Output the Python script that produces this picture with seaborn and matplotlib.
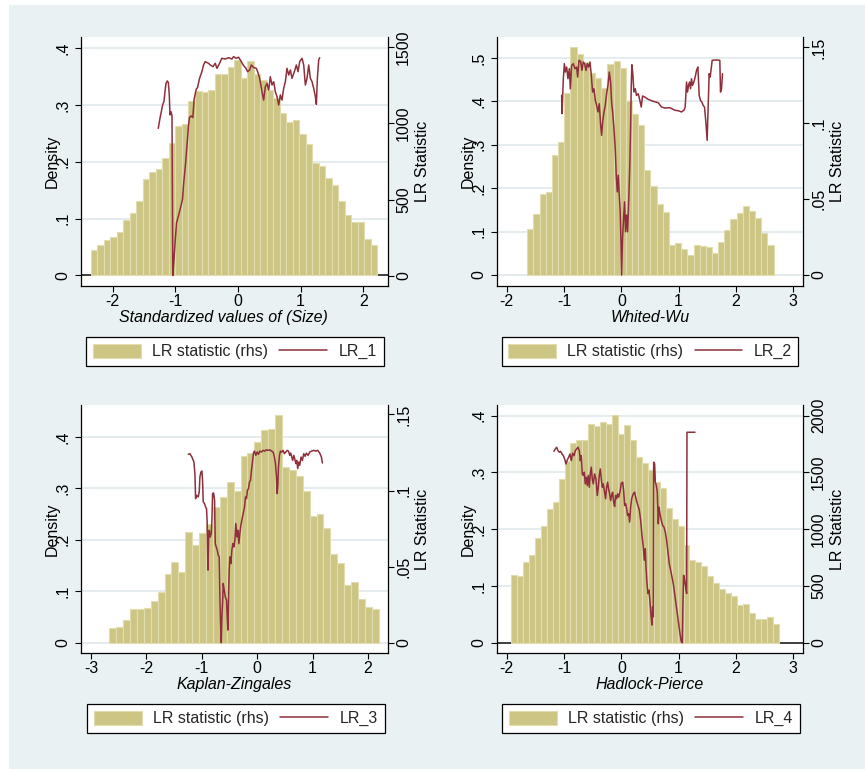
import numpy as np
import pandas as pd
import seaborn as sns
import matplotlib
matplotlib.use("Agg")
import matplotlib.pyplot as plt
from matplotlib.patches import Patch, Rectangle
from matplotlib.lines import Line2D

# ---------------- data ----------------
# Histogram 1: Standardized values of (Size)
h1_start, h1_width = -2.35, 0.104
h1_density = [.045, .053, .062, .067, .076, .097, .110, .130, .169, .182, .187, .207, .233, .263, .267,
              .307, .324, .323, .327, .355, .354, .367, .379, .347, .377, .355, .343, .326, .313, .285,
              .270, .274, .249, .231, .197, .193, .172, .159, .130, .107, .093, .093, .064, .053]
# Histogram 2: Whited-Wu
h2_start, h2_width = -1.64, 0.1074
h2_density = [.107, .141, .187, .192, .276, .307, .420, .525, .509, .490, .465, .455, .432, .486, .493,
              .476, .401, .372, .346, .242, .204, .163, .145, .069, .074, .060, .045, .069, .066, .064,
              .050, .077, .104, .129, .142, .160, .148, .131, .097, .069]
# Histogram 3: Kaplan-Zingales
h3_start, h3_width = -2.67, 0.1247
h3_density = [.029, .031, .044, .065, .065, .067, .082, .098, .134, .156, .137, .215, .190, .213, .231,
              .263, .283, .312, .295, .364, .369, .390, .414, .415, .443, .342, .336, .325, .296, .246,
              .250, .224, .172, .155, .112, .119, .085, .069, .066]
# Histogram 4: Hadlock-Pierce
h4_start, h4_width = -1.925, 0.1038
h4_density = [.119, .117, .142, .155, .185, .206, .235, .248, .288, .321, .352, .357, .358, .385, .381,
              .389, .386, .401, .368, .384, .357, .328, .316, .304, .284, .272, .238, .218, .206, .173,
              .146, .143, .135, .118, .105, .095, .087, .083, .066, .069, .053, .042, .042, .045, .033]

# LR statistic lines
lr1_x = [-1.272, -1.245, -1.218, -1.202, -1.181, -1.165, -1.149, -1.128, -1.112, -1.096,
         -1.085, -1.069, -1.053, -1.040, -1.021, -1.0, -0.98, -0.95, -0.91, -0.885,
         -0.87, -0.84, -0.81, -0.79, -0.775, -0.75, -0.72, -0.70, -0.666, -0.645,
         -0.613, -0.576, -0.549, -0.523, -0.47, -0.443, -0.40, -0.363, -0.336, -0.294,
         -0.257, -0.204, -0.15, -0.097, -0.07, -0.028, 0.01, 0.047, 0.09, 0.127,
         0.154, 0.186, 0.213, 0.25, 0.292, 0.314, 0.346, 0.383, 0.41, 0.436,
         0.463, 0.49, 0.516, 0.543, 0.57, 0.596, 0.623, 0.65, 0.676, 0.702,
         0.729, 0.756, 0.782, 0.81, 0.836, 0.862, 0.9, 0.932, 0.958, 0.985,
         1.022, 1.049, 1.075, 1.102, 1.129, 1.155, 1.182, 1.208, 1.235, 1.251,
         1.267, 1.288, 1.304]
lr1_y = [968, 1034, 1089, 1122, 1145, 1209, 1264, 1280, 1271, 1188,
         1056, 1078, 1052, 0, 107, 239, 348, 392, 458, 502,
         590, 721, 875, 985, 1039, 1050, 1039, 1160, 1226, 1237,
         1297, 1341, 1385, 1407, 1396, 1385, 1374, 1396, 1363, 1396,
         1429, 1424, 1433, 1424, 1440, 1429, 1436, 1411, 1381, 1363,
         1341, 1352, 1385, 1368, 1363, 1341, 1297, 1209, 1154, 1242,
         1264, 1220, 1308, 1253, 1275, 1209, 1176, 1122, 1188, 1154,
         1231, 1275, 1363, 1319, 1352, 1297, 1341, 1385, 1341, 1407,
         1429, 1385, 1253, 1297, 1385, 1297, 1275, 1231, 1176, 1126,
         1297, 1418, 1433]

lr2_x = [-1.041, -1.035, -1.012, -0.994, -0.977, -0.954, -0.931, -0.907, -0.89, -0.867,
         -0.838, -0.809, -0.78, -0.762, -0.739, -0.71, -0.687, -0.664, -0.64, -0.617,
         -0.594, -0.571, -0.547, -0.524, -0.501, -0.478, -0.454, -0.431, -0.408, -0.385,
         -0.361, -0.344, -0.326, -0.303, -0.28, -0.257, -0.234, -0.21, -0.187, -0.17,
         -0.152, -0.129, -0.106, -0.089, -0.071, -0.054, -0.036, -0.019, -0.008, 0.004,
         0.021, 0.039, 0.056, 0.074, 0.091, 0.109, 0.132, 0.149, 0.161, 0.173,
         0.184, 0.202, 0.219, 0.242, 0.265, 0.294, 0.323, 0.347, 0.37, 0.411,
         0.469, 0.556, 0.643, 0.701, 0.759, 0.847, 0.934, 0.992, 1.05, 1.091,
         1.114, 1.137, 1.155, 1.172, 1.19, 1.207, 1.224, 1.242, 1.265, 1.288,
         1.312, 1.335, 1.358, 1.381, 1.404, 1.428, 1.451, 1.474, 1.497, 1.515,
         1.532, 1.55, 1.567, 1.585, 1.631, 1.689, 1.718, 1.73, 1.747, 1.765]
lr2_y = [.1184, .1064, .1294, .1393, .1338, .1371, .1294, .1360, .1228, .1382,
         .1393, .1360, .1371, .1305, .1415, .1408, .1349, .1404, .1393, .1349,
         .1393, .1371, .1404, .1316, .1206, .1228, .1151, .1118, .1075, .1129,
         .0987, .0921, .1009, .1075, .1118, .1195, .1250, .1338, .1272, .1140,
         .1075, .0965, .0833, .0658, .0548, .0658, .0526, .0417, .0241, 0,
         .0241, .0373, .0482, .0285, .0395, .0285, .0526, .0746, .0965, .1250,
         .1386, .1316, .1206, .1228, .1184, .1195, .1151, .1107, .1180, .1173,
         .1158, .1145, .1136, .1107, .1101, .1103, .1086, .1083, .1075, .1086,
         .1107, .1272, .1206, .1250, .1272, .1228, .1294, .1250, .1272, .1305,
         .1349, .1371, .1184, .1151, .1140, .1118, .1107, .1009, .0888, .1118,
         .1327, .1305, .1360, .1415, .1417, .1417, .1415, .1206, .1228, .1327]

lr3_x = [-1.244, -1.214, -1.178, -1.142, -1.124, -1.112, -1.094, -1.064, -1.046, -1.034,
         -1.016, -0.998, -0.986, -0.974, -0.95, -0.932, -0.914, -0.902, -0.889, -0.877,
         -0.865, -0.847, -0.829, -0.817, -0.805, -0.787, -0.769, -0.757, -0.739, -0.721,
         -0.703, -0.685, -0.673, -0.661, -0.649, -0.637, -0.625, -0.613, -0.595, -0.577,
         -0.553, -0.541, -0.529, -0.517, -0.505, -0.493, -0.475, -0.457, -0.439, -0.421,
         -0.403, -0.385, -0.367, -0.349, -0.331, -0.313, -0.295, -0.277, -0.253, -0.229,
         -0.211, -0.193, -0.175, -0.157, -0.139, -0.121, -0.103, -0.085, -0.067, -0.049,
         -0.025, -0.001, 0.023, 0.047, 0.077, 0.107, 0.137, 0.167, 0.197, 0.227,
         0.257, 0.288, 0.312, 0.33, 0.348, 0.36, 0.372, 0.384, 0.402, 0.42,
         0.444, 0.468, 0.492, 0.516, 0.54, 0.564, 0.588, 0.606, 0.624, 0.642,
         0.66, 0.678, 0.696, 0.714, 0.732, 0.75, 0.768, 0.792, 0.816, 0.84,
         0.864, 0.888, 0.918, 0.948, 0.984, 1.02, 1.057, 1.093, 1.129, 1.159,
         1.177]
lr3_y = [.1238, .1242, .1220, .1187, .1111, .0947, .0969, .0958, .0991, .1089,
         .1121, .1128, .1067, .0925, .0914, .0892, .0881, .0783, .0477, .0673,
         .0739, .0695, .0717, .0805, .0980, .0984, .0936, .0651, .0629, .0608,
         .0575, .0564, .0302, .0127, 0, .0170, .0258, .0389, .0345, .0302,
         .0280, .0170, .0083, .0302, .0477, .0564, .0520, .0608, .0651, .0629,
         .0673, .0783, .0695, .0739, .0651, .0717, .0771, .0805, .0848, .0892,
         .0958, .0947, .1002, .1013, .1056, .1067, .1133, .1187, .1246, .1259,
         .1231, .1253, .1238, .1259, .1253, .1264, .1259, .1268, .1264, .1268,
         .1259, .1253, .1220, .1177, .1089, .0980, .1035, .1155, .1231, .1259,
         .1253, .1264, .1242, .1253, .1264, .1259, .1231, .1246, .1220, .1198,
         .1231, .1209, .1177, .1198, .1144, .1187, .1166, .1220, .1198, .1242,
         .1225, .1246, .1231, .1253, .1259, .1264, .1259, .1264, .1246, .1220,
         .1181]

lr4_x = [-1.175, -1.152, -1.128, -1.105, -1.082, -1.059, -1.035, -1.012, -0.989, -0.966,
         -0.943, -0.919, -0.896, -0.873, -0.85, -0.826, -0.803, -0.78, -0.757, -0.733,
         -0.716, -0.699, -0.681, -0.664, -0.646, -0.629, -0.611, -0.594, -0.577, -0.559,
         -0.542, -0.524, -0.507, -0.489, -0.466, -0.443, -0.42, -0.402, -0.385, -0.367,
         -0.35, -0.332, -0.315, -0.297, -0.274, -0.257, -0.239, -0.222, -0.204, -0.187,
         -0.17, -0.152, -0.135, -0.117, -0.1, -0.082, -0.065, -0.047, -0.024, -0.001,
         0.023, 0.04, 0.058, 0.075, 0.093, 0.11, 0.127, 0.145, 0.162, 0.18,
         0.197, 0.215, 0.232, 0.25, 0.267, 0.29, 0.313, 0.337, 0.36, 0.383,
         0.401, 0.418, 0.43, 0.447, 0.465, 0.482, 0.5, 0.517, 0.534, 0.546,
         0.558, 0.564, 0.581, 0.593, 0.61, 0.627, 0.645, 0.657, 0.674, 0.697,
         0.72, 0.743, 0.767, 0.79, 0.813, 0.836, 0.86, 0.883, 0.906, 0.929,
         0.953, 0.976, 0.999, 1.022, 1.046, 1.063, 1.075, 1.086, 1.104, 1.121,
         1.139, 1.145, 1.197, 1.284]
lr4_y = [1686, 1707, 1722, 1692, 1678, 1686, 1663, 1648, 1619, 1575,
         1610, 1634, 1663, 1604, 1669, 1648, 1692, 1707, 1722, 1692,
         1604, 1648, 1487, 1473, 1502, 1399, 1458, 1385, 1473, 1370,
         1487, 1546, 1443, 1399, 1487, 1443, 1297, 1370, 1473, 1531,
         1443, 1370, 1399, 1341, 1268, 1370, 1414, 1355, 1312, 1253,
         1297, 1326, 1238, 1200, 1297, 1268, 1312, 1282, 1326, 1405,
         1414, 1341, 1209, 1224, 1180, 1121, 1136, 1063, 1194, 1268,
         1297, 1317, 1326, 1282, 1247, 1209, 1171, 1078, 946, 844,
         727, 829, 668, 522, 434, 463, 361, 244, 156, 317,
         229, 1590, 1575, 1414, 1385, 1326, 1048, 1194, 1136, 1078,
         1034, 1019, 975, 902, 800, 697, 639, 580, 522, 434,
         346, 258, 171, 83, 9, 0, 346, 595, 551, 492,
         434, 1854, 1854, 1854]

x_labels = ["Standardized values of (Size)", "Whited-Wu", "Kaplan-Zingales", "Hadlock-Pierce"]
line_names = ["LR_1", "LR_2", "LR_3", "LR_4"]
bar_name = "LR statistic (rhs)"

# ---------------- style ----------------
BG = "#eaf1f3"
BAR = "#cdc584"
BAR_EDGE = "#e2ddb0"
LINE = "#8e2f3b"
GRID = "#e0e9ed"
FS = 11.5

sns.set_theme(style="ticks")
plt.rcParams["font.family"] = ["Liberation Sans", "DejaVu Sans"]

W, H = 865, 769
fig = plt.figure(figsize=(W / 100, H / 100), dpi=100, facecolor="white")
fig.patches.append(Rectangle((9 / W, 0), 1 - 9 / W, 1 - 5 / H, transform=fig.transFigure,
                             facecolor=BG, edgecolor="none", zorder=-10))


def add_px_axes(l, t, r, b):
    return fig.add_axes([l / W, 1 - b / H, (r - l) / W, (b - t) / H])


panels = [
    dict(rect=(81, 37, 388, 286), hs=h1_start, hw=h1_width, hd=h1_density, lx=lr1_x, ly=lr1_y,
         xlim=(-2.505, 2.394), ylim=(-0.0188, 0.4195), y2lim=(-69, 1569),
         xt=[-2, -1, 0, 1, 2], yt=[0, .1, .2, .3, .4], ytl=["0", ".1", ".2", ".3", ".4"],
         y2t=[0, 500, 1000, 1500], y2tl=["0", "500", "1000", "1500"], xlab_x=0.464,
         leg=(235, 337), zero_line=True),
    dict(rect=(497, 37, 803, 286), hs=h2_start, hw=h2_width, hd=h2_density, lx=lr2_x, ly=lr2_y,
         xlim=(-2.169, 3.169), ylim=(-0.0253, 0.5484), y2lim=(-0.00724, 0.1569),
         xt=[-2, -1, 0, 1, 2, 3], yt=[0, .1, .2, .3, .4, .5], ytl=["0", ".1", ".2", ".3", ".4", ".5"],
         y2t=[0, .05, .1, .15], y2tl=["0", ".05", ".1", ".15"], xlab_x=0.5,
         leg=(650, 337), zero_line=False),
    dict(rect=(81, 405, 388, 653), hs=h3_start, hw=h3_width, hd=h3_density, lx=lr3_x, ly=lr3_y,
         xlim=(-3.18, 2.361), ylim=(-0.0201, 0.4624), y2lim=(-0.00676, 0.1562),
         xt=[-3, -2, -1, 0, 1, 2], yt=[0, .1, .2, .3, .4], ytl=["0", ".1", ".2", ".3", ".4"],
         y2t=[0, .05, .1, .15], y2tl=["0", ".05", ".1", ".15"], xlab_x=0.5,
         leg=(236, 704), zero_line=False),
    dict(rect=(497, 405, 803, 653), hs=h4_start, hw=h4_width, hd=h4_density, lx=lr4_x, ly=lr4_y,
         xlim=(-2.169, 3.169), ylim=(-0.0181, 0.4188), y2lim=(-90, 2094),
         xt=[-2, -1, 0, 1, 2, 3], yt=[0, .1, .2, .3, .4], ytl=["0", ".1", ".2", ".3", ".4"],
         y2t=[0, 500, 1000, 1500, 2000], y2tl=["0", "500", "1000", "1500", "2000"], xlab_x=0.5,
         leg=(651, 704), zero_line=True),
]

for i, p in enumerate(panels):
    ax = add_px_axes(*p["rect"])
    ax.set_facecolor("white")
    n = len(p["hd"])
    edges = [p["hs"] + p["hw"] * k for k in range(n + 1)]
    centers = [(edges[k] + edges[k + 1]) / 2 for k in range(n)]
    df = pd.DataFrame({"x": centers, "density": p["hd"]})
    sns.histplot(data=df, x="x", weights="density", bins=edges, ax=ax, color=BAR,
                 edgecolor=BAR_EDGE, linewidth=0.8, alpha=1, zorder=2)
    if p["zero_line"]:
        ax.axhline(0, color="#222222", lw=1.2, zorder=1.5)
    ax.set_xlim(*p["xlim"])
    ax.set_ylim(*p["ylim"])
    ax.set_axisbelow(True)
    ax.yaxis.grid(True, color=GRID, lw=1.2)
    ax.xaxis.grid(False)
    ax.set_xticks(p["xt"])
    ax.set_xticklabels([str(v) for v in p["xt"]], fontsize=FS)
    ax.set_yticks(p["yt"])
    ax.set_yticklabels(p["ytl"], rotation=90, va="center", fontsize=FS)
    ax.tick_params(axis="both", direction="out", length=4.3, width=0.8, color="black",
                   labelcolor="black")
    ax.tick_params(axis="x", pad=1.5)
    ax.tick_params(axis="y", pad=3.0)
    for s in ["top", "right"]:
        ax.spines[s].set_visible(False)
    for s in ["left", "bottom"]:
        ax.spines[s].set_color("black")
        ax.spines[s].set_linewidth(0.9)
    ax.set_xlabel(x_labels[i], fontsize=FS, style="italic", color="black")
    ax.xaxis.set_label_coords(p["xlab_x"], -0.096)
    ax.set_ylabel("Density", fontsize=FS, color="black")
    ax.yaxis.set_label_coords(-0.068, 0.5)

    ax2 = ax.twinx()
    ax2.patch.set_visible(False)
    sns.lineplot(x=p["lx"], y=p["ly"], ax=ax2, color=LINE, linewidth=1.1,
                 estimator=None, sort=False, legend=False)
    ax2.set_ylim(*p["y2lim"])
    ax2.set_yticks(p["y2t"])
    ax2.set_yticklabels(p["y2tl"], rotation=90, va="center", fontsize=FS)
    ax2.tick_params(axis="y", direction="out", length=4.3, width=0.8, color="black",
                    labelcolor="black", pad=1.5)
    for s in ["top", "left", "bottom"]:
        ax2.spines[s].set_visible(False)
    ax2.spines["right"].set_visible(True)
    ax2.spines["right"].set_color("black")
    ax2.spines["right"].set_linewidth(0.9)
    ax2.set_ylabel("LR Statistic", fontsize=FS, color="black")
    ax2.yaxis.set_label_coords(1.088, 0.5)
    ax2.grid(False)

    handles = [Patch(facecolor=BAR, edgecolor=BAR_EDGE, linewidth=0.8),
               Line2D([0], [0], color=LINE, lw=1.1)]
    cx, top = p["leg"]
    leg = fig.legend(handles, [bar_name, line_names[i]], ncol=2, loc="upper center",
                     bbox_to_anchor=(cx / W, 1 - top / H), frameon=True, fancybox=False,
                     edgecolor="black", facecolor="white", framealpha=1, fontsize=FS,
                     handlelength=3.0, handleheight=1.0, handletextpad=0.7,
                     columnspacing=0.7, borderpad=0.42, borderaxespad=0)
    leg.get_frame().set_linewidth(0.9)

fig.savefig("out.png", dpi=100, facecolor=fig.get_facecolor())
